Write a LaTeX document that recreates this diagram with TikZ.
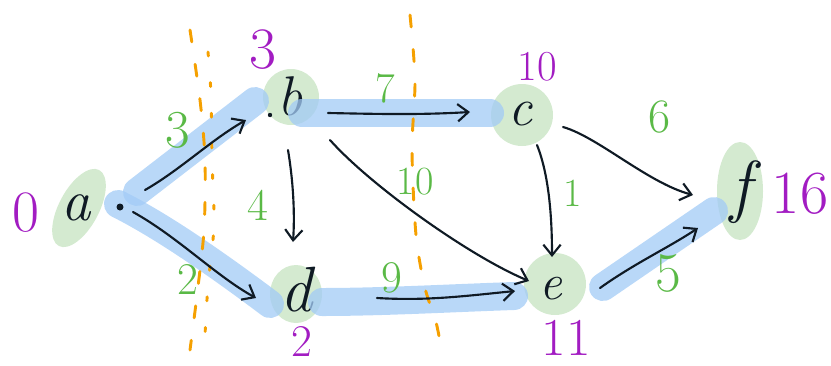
\documentclass[tikz,border=0pt]{standalone}
\usetikzlibrary{arrows.meta,calc}
\definecolor{blobg}{HTML}{D4EAD0}
\definecolor{hlblue}{HTML}{A2CBF6}
\definecolor{wgreen}{HTML}{5AB946}
\definecolor{dpurple}{HTML}{A21CC2}
\definecolor{cutor}{HTML}{F5A000}
\definecolor{ink}{HTML}{0F1A24}
\tikzset{
  blob/.style={fill=blobg},
  hl/.style={draw=hlblue, line width=21pt, line cap=round, opacity=0.75},
  cutline/.style={draw=cutor, line width=2.2pt, line cap=round, dash pattern=on 9pt off 17pt},
  cutdots/.style={draw=cutor, line width=2.2pt, line cap=round, dash pattern=on 3pt off 20pt},
  edgearrow/.style={draw=ink, line width=1.6pt, line cap=round, -{Straight Barb[length=8pt,width=13pt,line width=1.6pt]}},
  vlabel/.style={inner sep=0pt, text=ink, font=\fontsize{#1}{#1}\selectfont\itshape},
  wlabel/.style={inner sep=0pt, text=wgreen, font=\fontsize{#1}{#1}\selectfont},
  dlabel/.style={inner sep=0pt, text=dpurple, font=\fontsize{#1}{#1}\selectfont},
}
\begin{document}
\begin{tikzpicture}[x=0.75pt,y=-0.75pt]
\useasboundingbox (0,0) rectangle (831,365);
% green blobs
\fill[blob, rotate around={62:(79,208)}] (79,208) ellipse [x radius=43, y radius=20];
\fill[blob] (291,97) circle [radius=28];
\fill[blob] (522,115) circle [radius=31];
\fill[blob] (296,294) ellipse [x radius=26, y radius=29];
\fill[blob] (555,284) circle [radius=31];
\fill[blob] (740,191) ellipse [x radius=23, y radius=49];
% nodes
\node[vlabel=44] (a) at (76,208) {a};
\node[vlabel=42] (b) at (290,96) {b};
\node[vlabel=40] (c) at (520,114) {c};
\node[vlabel=48] (d) at (296,290) {d};
\node[vlabel=38] (e) at (551,289) {e};
\node[vlabel=52] (f) at (741,192) {f};
% blue highlights
\draw[hl] ($(a)+(61,-16)$) -- ($(b)+(-35,5)$);
\draw[hl] ($(a)+(42,-4)$) .. controls +(50,25) and +(-40,-30) .. ($(d)+(-26,14)$);
\draw[hl] ($(b)+(12,17)$) -- ($(c)+(-30,-1)$);
\draw[hl] ($(d)+(26,12)$) .. controls +(60,0) and +(-60,2) .. ($(e)+(-37,7)$);
\draw[hl] ($(e)+(52,-2)$) -- ($(f)+(-27,19)$);
% orange cut lines
\draw[cutline] plot[smooth] coordinates {(190,30) (200,100) (205,160) (204,230) (197,295) (190,350)};
\draw[cutdots] plot[smooth] coordinates {(208,52) (211,95) (212,160) (214,225) (208,285) (205,335)};
\draw[cutline] plot[smooth] coordinates {(410,15) (415,80) (412,150) (416,235) (425,288) (436,322) (443,358)};
% dots
\fill[ink] (120,207) circle [radius=3.5];
\fill[ink] (270,115) circle [radius=2.2];
% arrows
\draw[edgearrow] ($(a)+(69,-18)$) .. controls +(35,-20) and +(-35,20) .. ($(b)+(-44,24)$);
\draw[edgearrow] ($(a)+(57,4)$) .. controls +(45,25) and +(-40,-22) .. ($(d)+(-40,8)$);
\draw[edgearrow] ($(b)+(38,17)$) .. controls +(50,1) and +(-50,3) .. ($(c)+(-50,-2)$);
\draw[edgearrow] ($(b)+(-2,54)$) .. controls +(5,30) and +(2,-30) .. ($(d)+(-3,-48)$);
\draw[edgearrow] ($(b)+(40,44)$) .. controls +(40,45) and +(-60,-25) .. ($(e)+(-22,-8)$);
\draw[edgearrow] ($(d)+(81,8)$) .. controls +(50,3) and +(-50,5) .. ($(e)+(-36,2)$);
\draw[edgearrow] ($(c)+(17,31)$) .. controls +(12,30) and +(0,-40) .. ($(e)+(1,-32)$);
\draw[edgearrow] ($(c)+(43,13)$) .. controls +(35,10) and +(-45,-12) .. ($(f)+(-48,3)$);
\draw[edgearrow] ($(e)+(49,-1)$) .. controls +(35,-25) and +(-30,20) .. ($(f)+(-43,36)$);
% weights
\node[wlabel=40] (wab) at (178,130) {3};
\node[wlabel=34] (wad) at (188,280) {2};
\node[wlabel=32] (wbc) at (385,88) {7};
\node[wlabel=34] (wbd) at (258,205) {4};
\node[wlabel=30] (wbe) at (415,182) {10};
\node[wlabel=34] (wde) at (392,278) {9};
\node[wlabel=30] (wce) at (573,193) {1};
\node[wlabel=36] (wcf) at (660,117) {6};
\node[wlabel=42] (wef) at (668,273) {5};
% distances
\node[dlabel=44] (da) at (26,213) {0};
\node[dlabel=44] (db) at (263,50) {3};
\node[dlabel=32] (dc) at (537,67) {10};
\node[dlabel=34] (dd) at (302,342) {2};
\node[dlabel=40] (de) at (566,338) {11};
\node[dlabel=46] (df) at (800,194) {16};
\end{tikzpicture}
\end{document}
